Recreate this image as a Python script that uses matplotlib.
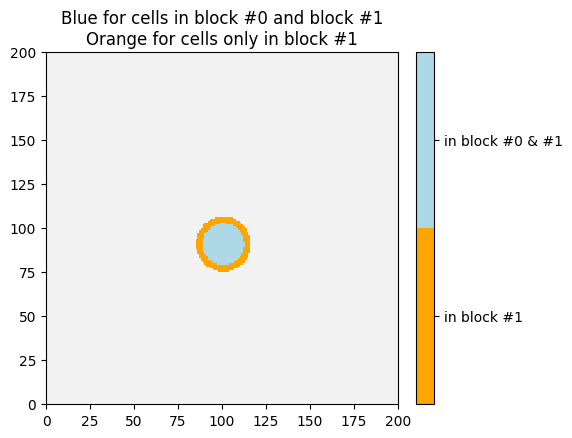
import numpy as np
import matplotlib
matplotlib.use("Agg")
import matplotlib.pyplot as plt
from matplotlib.colors import ListedColormap, Normalize

# Grid and block geometry
grid_size = 200
center_x, center_y = 100.8, 90.8
radius_block0 = 11.8   # cells in block #0 and #1
radius_block1 = 15.6   # cells in block #1
colors = ["orange", "lightblue"]
tick_labels = ["in block #1", "in block #0 & #1"]
background = "#f2f2f2"

yy, xx = np.mgrid[0:grid_size, 0:grid_size]
d = np.hypot(xx + 0.5 - center_x, yy + 0.5 - center_y)
field = np.full((grid_size, grid_size), np.nan)
field[d <= radius_block1] = 0
field[d <= radius_block0] = 1
field = np.ma.masked_invalid(field)

fig = plt.figure(figsize=(5.72, 4.39), dpi=100)
ax = fig.add_axes([46/572, 1-405/439, 352/572, 352/439])
cax = fig.add_axes([416/572, 1-405/439, 18/572, 352/439])
ax.set_facecolor(background)
cmap = ListedColormap(colors)
norm = Normalize(vmin=-0.5, vmax=1.5)
im = ax.imshow(field, origin="lower", cmap=cmap, norm=norm,
               extent=[0, grid_size, 0, grid_size], interpolation="nearest")
ax.set_xticks(np.arange(0, 201, 25))
ax.set_yticks(np.arange(0, 201, 25))
ax.set_title("Blue for cells in block #0 and block #1\nOrange for cells only in block #1")
cb = fig.colorbar(im, cax=cax, ticks=[0, 1])
cb.set_ticklabels(tick_labels)
cb.ax.minorticks_off()
fig.savefig("out.png", dpi=100)
